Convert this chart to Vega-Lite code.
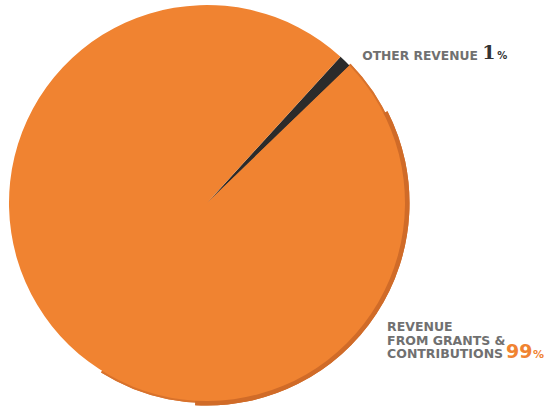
{
  "$schema": "https://vega.github.io/schema/vega-lite/v6.json",
  "autosize": "none",
  "width": 414,
  "height": 406,
  "padding": {"left": 0, "top": 0, "right": 137, "bottom": 1},
  "background": "white",
  "view": {"stroke": null},
  "data": {
    "values": [
      {"category": "Other revenue", "share": 1, "label": "OTHER REVENUE", "num": "1", "sign": "%"},
      {"category": "Revenue from grants & contributions", "share": 99, "label": "REVENUE\nFROM GRANTS &\nCONTRIBUTIONS", "num": "99", "sign": "%"}
    ]
  },
  "layer": [
    {
      "mark": {"type": "arc", "theta": 0.8, "theta2": 3.7, "outerRadius": 200, "innerRadius": 0, "color": "#d8722c"},
      "encoding": {}
    },
    {
      "mark": {"type": "arc", "theta": 1.1, "theta2": 3.2, "outerRadius": 202.5, "innerRadius": 0, "color": "#d06b28"},
      "encoding": {}
    },
    {
      "mark": {"type": "arc", "outerRadius": 198, "stroke": null},
      "encoding": {
        "theta": {"field": "share", "type": "quantitative", "stack": true, "scale": {"domain": [0, 100], "range": [0.74, 7.023]}},
        "order": {"field": "share", "sort": "ascending"},
        "color": {"field": "category", "type": "nominal", "legend": null,
          "scale": {"domain": ["Other revenue", "Revenue from grants & contributions"], "range": ["#2b2b2b", "#f08331"]}}
      }
    },
    {
      "transform": [{"filter": "datum.share == 1"}],
      "mark": {"type": "text", "radius": 211, "thetaOffset": 0.055, "align": "left", "baseline": "alphabetic", "font": "DejaVu Sans", "fontWeight": "bold", "fontSize": 12.3, "color": "#707070"},
      "encoding": {
        "theta": {"field": "share", "type": "quantitative", "stack": true},
        "text": {"field": "label"}
      }
    },
    {
      "transform": [{"filter": "datum.share == 1"}],
      "mark": {"type": "text", "radius": 211, "thetaOffset": 0.055, "dx": 120, "dy": -1, "align": "left", "baseline": "alphabetic", "font": "DejaVu Serif", "fontWeight": "bold", "fontSize": 19, "color": "#333333"},
      "encoding": {
        "theta": {"field": "share", "type": "quantitative", "stack": true},
        "text": {"field": "num"}
      }
    },
    {
      "transform": [{"filter": "datum.share == 1"}],
      "mark": {"type": "text", "radius": 211, "thetaOffset": 0.055, "dx": 135, "dy": -1, "align": "left", "baseline": "alphabetic", "font": "DejaVu Sans", "fontWeight": "bold", "fontSize": 10, "color": "#333333"},
      "encoding": {
        "theta": {"field": "share", "type": "quantitative", "stack": true},
        "text": {"field": "sign"}
      }
    },
    {
      "transform": [{"filter": "datum.share == 99"}],
      "mark": {"type": "text", "radius": 221, "thetaOffset": -1.661, "align": "left", "baseline": "alphabetic", "lineBreak": "\n", "lineHeight": 13.5, "font": "DejaVu Sans", "fontWeight": "bold", "fontSize": 12.5, "color": "#707070"},
      "encoding": {
        "theta": {"field": "share", "type": "quantitative", "stack": true},
        "text": {"field": "label"}
      }
    },
    {
      "transform": [{"filter": "datum.share == 99"}],
      "mark": {"type": "text", "radius": 221, "thetaOffset": -1.661, "dx": 119, "dy": 27, "align": "left", "baseline": "alphabetic", "font": "DejaVu Sans", "fontWeight": "bold", "fontSize": 19, "color": "#f08331"},
      "encoding": {
        "theta": {"field": "share", "type": "quantitative", "stack": true},
        "text": {"field": "num"}
      }
    },
    {
      "transform": [{"filter": "datum.share == 99"}],
      "mark": {"type": "text", "radius": 221, "thetaOffset": -1.661, "dx": 146, "dy": 27, "align": "left", "baseline": "alphabetic", "font": "DejaVu Sans", "fontWeight": "bold", "fontSize": 11, "color": "#f08331"},
      "encoding": {
        "theta": {"field": "share", "type": "quantitative", "stack": true},
        "text": {"field": "sign"}
      }
    }
  ]
}
